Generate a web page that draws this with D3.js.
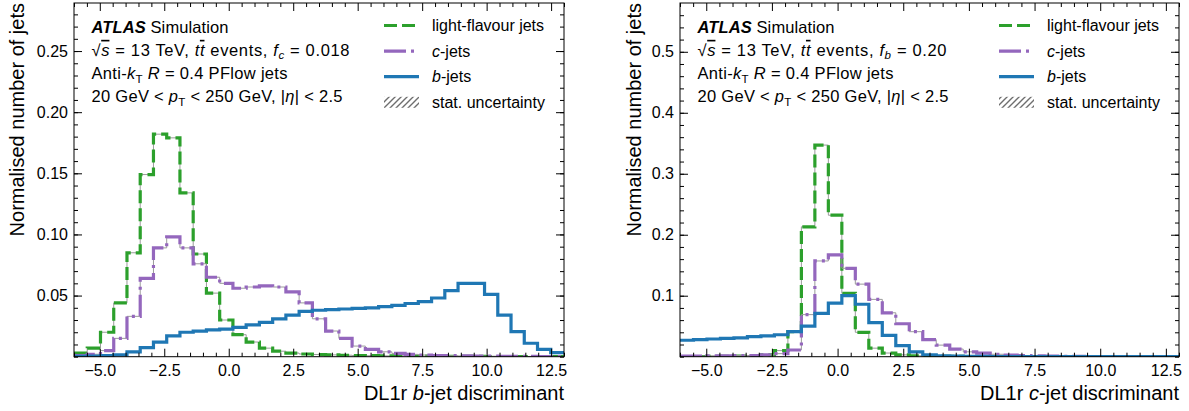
<!DOCTYPE html>
<meta charset="utf-8">
<html>
<script src="https://d3js.org/d3.v7.min.js"></script>
<style>
  body { margin: 0; background: white; }
  text { font-family: "Liberation Sans", Arial, sans-serif; fill: #000; white-space: pre; }
  .tick text { font-size: 16px; }
</style>
<body>
<div id="chart"></div>
<script>
// 37 equal bins between -6 and 13 (same binning for both panels)
const binLow = -6, binHigh = 13, nBins = 37;

const xTicks = [-5, -2.5, 0, 2.5, 5, 7.5, 10, 12.5];
const yTicksB = [0.05, 0.10, 0.15, 0.20, 0.25];
const yTicksC = [0.1, 0.2, 0.3, 0.4, 0.5];

// DL1r b-jet discriminant, normalised bin contents
const bLight = [0.003, 0.007, 0.020, 0.044, 0.085, 0.149, 0.182, 0.179, 0.134, 0.084,
                0.052, 0.030, 0.018, 0.012, 0.007, 0.0045, 0.003, 0.0022, 0.0018, 0.0015,
                0.0012, 0.0010, 0.0008, 0.0007, 0.0006, 0.0005, 0.0004, 0.0003, 0.0003, 0.0002,
                0.0002, 0.0001, 0.0001, 0.0001, 0.0001, 0.0001, 0.0001];
const bCjets = [0.001, 0.002, 0.005, 0.015, 0.033, 0.064, 0.089, 0.098, 0.089, 0.076,
                0.065, 0.060, 0.056, 0.057, 0.058, 0.057, 0.053, 0.044, 0.031, 0.021,
                0.015, 0.0087, 0.006, 0.004, 0.0027, 0.0019, 0.0014, 0.0010, 0.0008, 0.0006,
                0.0005, 0.0004, 0.0003, 0.0002, 0.0002, 0.0001, 0.0001];
const bBjets = [0.0003, 0.0005, 0.001, 0.0015, 0.004, 0.0075, 0.012, 0.017, 0.020, 0.021,
                0.022, 0.0225, 0.024, 0.026, 0.028, 0.031, 0.034, 0.037, 0.038, 0.0385,
                0.039, 0.0395, 0.040, 0.041, 0.042, 0.0435, 0.045, 0.048, 0.054, 0.060,
                0.060, 0.051, 0.034, 0.0205, 0.011, 0.006, 0.0033];

// DL1r c-jet discriminant
const cLight = [0.0003, 0.0003, 0.0005, 0.0007, 0.001, 0.0015, 0.003, 0.010, 0.041, 0.213,
                0.347, 0.232, 0.104, 0.040, 0.014, 0.006, 0.003, 0.0015, 0.001, 0.0006,
                0.0004, 0.0003, 0.0002, 0.0002, 0.0001, 0.0001, 0.0001, 0, 0, 0,
                0, 0, 0, 0, 0, 0, 0];
const cCjets = [0.001, 0.001, 0.0015, 0.0015, 0.002, 0.002, 0.003, 0.005, 0.011, 0.069,
                0.157, 0.167, 0.145, 0.119, 0.094, 0.072, 0.054, 0.041, 0.028, 0.019,
                0.0125, 0.008, 0.006, 0.004, 0.0025, 0.0018, 0.0012, 0.0008, 0.0006, 0.0004,
                0.0003, 0.0002, 0.0002, 0.0001, 0.0001, 0.0001, 0.0001];
const cBjets = [0.027, 0.028, 0.029, 0.030, 0.031, 0.033, 0.034, 0.036, 0.041, 0.050,
                0.071, 0.088, 0.100, 0.086, 0.056, 0.035, 0.018, 0.008, 0.003, 0.0015,
                0.001, 0.0006, 0.0004, 0.0003, 0.0002, 0.0002, 0.0001, 0.0001, 0.0001, 0,
                0, 0, 0, 0, 0, 0, 0];

const flavours = [
  {label: [["light-flavour jets"]], color: "#2ca02c", dash: "13,5"},
  {label: [["c", "i"], ["-jets"]], color: "#9467bd", dash: "22,5,3,5"},
  {label: [["b", "i"], ["-jets"]], color: "#1f77b4", dash: null}
];

const panels = [
  {left: 74, right: 564, ymax: 0.2893, yTicks: yTicksB, yFmt: ".2f", yMinor: 0.01, ylabX: 24,
   series: [bLight, bCjets, bBjets], frac: [["f", "i"], ["c", "is"], [" = 0.018"]], tag: "b",
   widths: [137, 258, 196, 251]},
  {left: 680, right: 1179, ymax: 0.58, yTicks: yTicksC, yFmt: ".1f", yMinor: 0.02, ylabX: 641,
   series: [cLight, cCjets, cBjets], frac: [["f", "i"], ["b", "is"], [" = 0.20"]], tag: "c",
   widths: [137, 249, 196, 251]}
];
const plotTop = 3, plotBottom = 356.7;

const svg = d3.select("#chart").append("svg")
    .attr("width", 1189).attr("height", 411);

const defs = svg.append("defs");
defs.append("pattern").attr("id", "hatch").attr("patternUnits", "userSpaceOnUse")
    .attr("width", 6).attr("height", 6)
  .append("path").attr("d", "M-1.5,1.5 l3,-3 M0,6 l6,-6 M4.5,7.5 l3,-3")
    .attr("stroke", "#6e6e6e").attr("stroke-width", 1.4);

const edges = d3.range(nBins + 1).map(i => binLow + i * (binHigh - binLow) / nBins);

// text with italic / bold / overline / subscript pieces
function rich(sel, parts, size) {
  let shift = 0;
  parts.forEach(([s, f = ""]) => {
    const ts = sel.append("tspan").text(s);
    if (f.includes("i")) ts.style("font-style", "italic");
    if (f.includes("b")) ts.style("font-weight", "bold");
    if (f.includes("o")) ts.style("text-decoration", "overline");
    const want = f.includes("s") ? size * 0.22 : 0;
    if (want !== shift) { ts.attr("dy", want - shift); shift = want; }
    if (f.includes("s")) ts.style("font-size", (size * 0.7) + "px");
  });
}

panels.forEach((p, pi) => {
  const x = d3.scaleLinear().domain([binLow, binHigh]).range([p.left, p.right]);
  const y = d3.scaleLinear().domain([0, p.ymax]).range([plotBottom, plotTop]);
  const g = svg.append("g");

  const clipId = "clip" + pi;
  defs.append("clipPath").attr("id", clipId).append("rect")
      .attr("x", p.left).attr("y", plotTop).attr("width", p.right - p.left).attr("height", plotBottom - plotTop);

  // histograms
  const stepPath = vals => {
    let d = "";
    vals.forEach((v, i) => {
      d += (i === 0 ? `M${x(edges[i])},${y(v)}` : `V${y(v)}`) + `H${x(edges[i + 1])}`;
    });
    return d;
  };
  const hg = g.append("g").attr("clip-path", `url(#${clipId})`);
  p.series.forEach((vals, si) => {
    // faint stat. uncertainty band outline
    hg.append("path").attr("d", stepPath(vals)).attr("fill", "none")
      .attr("stroke", "#9a9a9a").attr("stroke-width", 1);
    hg.append("path").attr("d", stepPath(vals)).attr("fill", "none")
      .attr("stroke", flavours[si].color).attr("stroke-width", 3.2)
      .attr("stroke-dasharray", flavours[si].dash);
  });

  // axes, ticks inside on all four sides
  const xMinor = d3.range(-6, 13.01, 0.5).filter(v => !xTicks.includes(v));
  const yMinor = d3.range(0, p.ymax, p.yMinor);
  const strip = a => { a.select(".domain").remove(); a.selectAll("line").attr("stroke", "#000"); };

  g.append("g").attr("transform", `translate(0,${plotBottom})`)
    .call(d3.axisBottom(x).tickValues(xTicks).tickSize(-8).tickPadding(8).tickFormat(d3.format(".1f"))).call(strip);
  g.append("g").attr("transform", `translate(0,${plotBottom})`)
    .call(d3.axisBottom(x).tickValues(xMinor).tickSize(-4).tickFormat("")).call(strip);
  g.append("g").attr("transform", `translate(0,${plotTop})`)
    .call(d3.axisTop(x).tickValues(xTicks).tickSize(-8).tickFormat("")).call(strip);
  g.append("g").attr("transform", `translate(0,${plotTop})`)
    .call(d3.axisTop(x).tickValues(xMinor).tickSize(-4).tickFormat("")).call(strip);

  g.append("g").attr("transform", `translate(${p.left},0)`)
    .call(d3.axisLeft(y).tickValues(p.yTicks).tickSize(-8).tickPadding(6).tickFormat(d3.format(p.yFmt))).call(strip);
  g.append("g").attr("transform", `translate(${p.left},0)`)
    .call(d3.axisLeft(y).tickValues(yMinor).tickSize(-4).tickFormat("")).call(strip);
  g.append("g").attr("transform", `translate(${p.right},0)`)
    .call(d3.axisRight(y).tickValues(p.yTicks).tickSize(-8).tickFormat("")).call(strip);
  g.append("g").attr("transform", `translate(${p.right},0)`)
    .call(d3.axisRight(y).tickValues(yMinor).tickSize(-4).tickFormat("")).call(strip);

  g.append("rect").attr("x", p.left).attr("y", plotTop)
    .attr("width", p.right - p.left).attr("height", plotBottom - plotTop)
    .attr("fill", "none").attr("stroke", "#000").attr("stroke-width", 1);

  // axis titles
  rich(g.append("text").attr("x", p.right).attr("y", 400).attr("text-anchor", "end")
    .style("font-size", "20px"), [["DL1r "], [p.tag, "i"], ["-jet discriminant"]], 20);
  g.append("text").attr("transform", `translate(${p.ylabX},${plotTop}) rotate(-90)`)
    .attr("text-anchor", "end").style("font-size", "20px").text("Normalised number of jets");

  // ATLAS label block
  const tx = p.left + 17.5;
  const lines = [
    [["ATLAS", "bi"], [" Simulation"]],
    [["\u221A"], ["s", "io"], [" = 13 TeV, "], ["t", "i"], ["t", "io"], [" events, "]].concat(p.frac),
    [["Anti-"], ["k", "i"], ["T", "s"], [" "], ["R", "i"], [" = 0.4 PFlow jets"]],
    [["20 GeV < "], ["p", "i"], ["T", "s"], [" < 250 GeV, |"], ["\u03B7", "i"], ["| < 2.5"]]
  ];
  lines.forEach((ln, i) => {
    const t = g.append("text").attr("x", tx).attr("y", 32.5 + i * 23.3).style("font-size", "16.5px")
      .attr("textLength", p.widths[i]).attr("lengthAdjust", "spacing");
    rich(t, ln, 16.5);
  });

  // legend
  const hx0 = p.right - 180, hx1 = p.right - 145, lx = p.right - 132;
  flavours.forEach((f, i) => {
    const by = 31 + i * 25.6;
    g.append("line").attr("x1", hx0).attr("x2", hx1).attr("y1", by - 5.5).attr("y2", by - 5.5)
      .attr("stroke", f.color).attr("stroke-width", 3.2).attr("stroke-dasharray", f.dash);
    rich(g.append("text").attr("x", lx).attr("y", by).style("font-size", "16px"), f.label, 16);
  });
  const sy = 31 + 3 * 25.6;
  g.append("rect").attr("x", hx0).attr("y", sy - 11).attr("width", hx1 - hx0).attr("height", 11)
    .attr("fill", "url(#hatch)");
  rich(g.append("text").attr("x", lx).attr("y", sy).style("font-size", "16px"), [["stat. uncertainty"]], 16);
});
</script>
</body>
</html>
